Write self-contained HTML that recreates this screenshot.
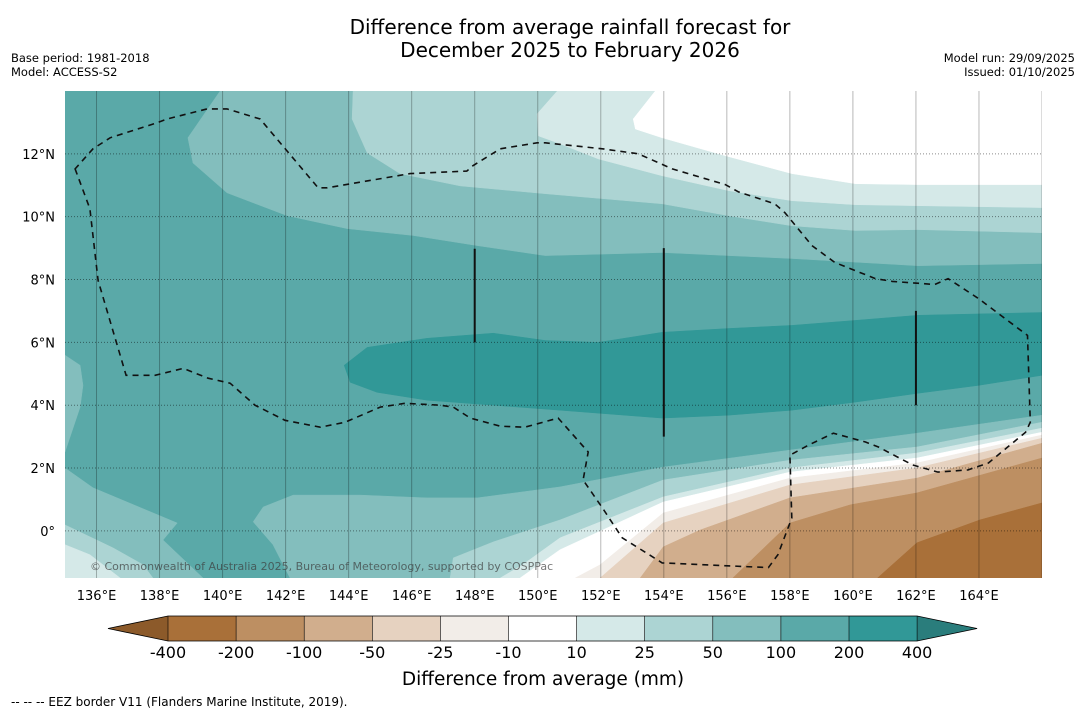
<!DOCTYPE html>
<html><head><meta charset="utf-8">
<style>
body{margin:0;background:#fff;font-family:"Liberation Sans","DejaVu Sans",sans-serif;}
#wrap{position:relative;width:1085px;height:713px;overflow:hidden;background:#fff;}
svg text{font-family:"DejaVu Sans","Liberation Sans",sans-serif;}
</style></head>
<body>
<div id="wrap">
<svg id="svg" width="1085" height="713" viewBox="0 0 1085 713">
<text x="570" y="34" font-size="20" text-anchor="middle" fill="#000">Difference from average rainfall forecast for</text>
<text x="570" y="57" font-size="20" text-anchor="middle" fill="#000">December 2025 to February 2026</text>
<text x="11" y="62" font-size="11.5">Base period: 1981-2018</text>
<text x="11" y="76" font-size="11.5">Model: ACCESS-S2</text>
<text x="1075" y="62" font-size="11.5" text-anchor="end">Model run: 29/09/2025</text>
<text x="1075" y="76" font-size="11.5" text-anchor="end">Issued: 01/10/2025</text>
<defs><clipPath id="mapclip"><rect x="65" y="91" width="977" height="487"/></clipPath></defs>
<g id="map" clip-path="url(#mapclip)"></g>
<g id="axes"></g>
<g id="cbar"></g>
<text x="543" y="685" font-size="18.5" text-anchor="middle">Difference from average (mm)</text>
<text x="11" y="706" font-size="12">--  --  -- EEZ border V11 (Flanders Marine Institute, 2019).</text>
</svg>
</div>
<script>
// ---- data (lon/lat) ----
const lonTicks=[136,138,140,142,144,146,148,150,152,154,156,158,160,162,164];
const latTicks=[0,2,4,6,8,10,12];
const cbLevels=[-400,-200,-100,-50,-25,-10,10,25,50,100,200,400];
const cbColors=["#a97039","#bd8f62","#d1ae8d","#e6d2c0","#f2ede8","#ffffff","#d5e9e8","#acd4d3","#83bebd","#5aa9a8","#319897"];
const baseColor="#5aa9a8";
const north100=[[139.92,14],[138.90,12.51],[139.06,11.71],[140.14,10.76],[142.05,10.03],[143.95,9.62],[146.05,9.40],[148.08,9.08],[150.24,8.76],[153.95,8.86],[158.06,8.67],[162.06,8.44],[166,8.51]];
const north50=[[144.14,14],[144.11,13.11],[144.59,12.03],[145.63,11.37],[147.54,10.98],[150.24,10.73],[153.95,10.41],[156.05,10.03],[158.06,9.71],[160.08,9.56],[162.06,9.59],[166,9.49]];
const north25=[[150.62,14],[149.98,13.27],[150.02,12.57],[150.71,12.32],[151.92,11.84],[153.95,11.30],[156.05,10.83],[158.06,10.51],[160.08,10.38],[162.06,10.35],[166,10.29]];
const north10=[[153.73,14],[153.03,13.11],[153.10,12.79],[153.95,12.51],[155.95,11.94],[158.06,11.37],[160.08,11.05],[162.06,11.02],[166,11.02]];
const band400=[[143.86,5.27],[144.59,5.84],[146.49,6.13],[148.59,6.29],[150.24,6.06],[151.92,6.00],[153.95,6.32],[156.05,6.44],[158.06,6.54],[160.08,6.70],[162.06,6.86],[166,6.95],[166,4.95],[163.98,4.63],[162.06,4.38],[160.08,4.10],[158.06,3.84],[156.05,3.68],[153.95,3.59],[150.71,3.84],[148.59,4.00],[146.49,4.16],[144.90,4.41],[144.05,4.73]];
const leftStrip=[[135,5.59],[135.48,5.27],[135.57,4.63],[135.48,3.94],[135,2.51]];
const sw100=[[135,2.0],[135.89,1.37],[138.56,0.25],[138.11,-0.29],[139.38,-1.5],[135,-1.5]];
const sw50=[[135,0.19],[136.52,-0.54],[137.48,-1.08],[137.79,-1.5],[135,-1.5]];
const sw25=[[135,-0.44],[135.79,-0.76],[136.75,-1.5],[135,-1.5]];
const south100=[[142.14,-1.5],[141.60,-0.44],[140.97,0.29],[141.29,0.76],[142.24,1.14],[144.37,1.14],[146.49,1.05],[148.08,1.05],[150.71,1.40],[153.98,2.03],[158.00,2.57],[162.03,3.11],[166,3.68]];
const south50=[[147.22,-1.5],[147.32,-0.86],[148.59,-0.35],[150.71,0.35],[153.98,1.62],[158.00,2.25],[162.03,2.67],[166,3.46]];
const south25=[[148.81,-1.5],[149.52,-1.08],[150.71,-0.22],[153.98,1.08],[158.00,2.00],[162.03,2.48],[166,3.27]];
const south10=[[149.44,-1.5],[150.71,-0.60],[153.98,0.92],[158.00,1.87],[162.03,2.32],[166,3.14]];
const southM10=[[151.19,-1.5],[151.98,-1.08],[153.98,0.57],[158.00,1.68],[162.03,2.16],[166,3.05]];
const southM25=[[151.98,-1.5],[153.98,0.25],[158.00,1.46],[162.03,2.00],[166,2.95]];
const southM50=[[153.25,-1.5],[153.98,-0.51],[155.16,0.03],[158.00,1.05],[162.03,1.68],[166,2.79]];
const southM100=[[156.19,-1.5],[158.00,0.25],[159.92,0.83],[162.03,1.21],[166,2.32]];
const southM200=[[160.78,-1.5],[162.03,-0.38],[164.03,0.35],[166,0.89]];
const eez=[[135.32,11.52],[135.79,10.25],[136.05,7.97],[136.94,4.95],[137.86,4.95],[138.75,5.17],[139.54,4.86],[140.24,4.70],[141.03,4.00],[141.98,3.52],[143.10,3.30],[143.89,3.46],[145.00,3.94],[145.79,4.06],[146.90,4.00],[147.32,3.94],[147.86,3.59],[148.81,3.33],[149.59,3.30],[150.65,3.59],[151.60,2.51],[151.44,1.62],[152.05,0.73],[152.68,-0.22],[153.95,-1.02],[157.32,-1.17],[157.62,-0.76],[158.06,0.41],[158.00,2.41],[158.59,2.73],[159.38,3.11],[160.40,2.83],[160.81,2.67],[161.89,2.10],[162.70,1.87],[163.65,1.94],[164.30,2.16],[165.48,3.14],[165.63,3.46],[165.54,6.22],[163.98,7.40],[163.02,8.03],[162.60,7.84],[161.25,7.94],[160.71,8.03],[159.43,8.54],[158.70,9.08],[157.84,10.13],[157.52,10.41],[156.37,10.79],[155.95,11.02],[154.27,11.52],[153.19,12.00],[152.05,12.16],[150.24,12.35],[149.98,12.35],[148.81,12.16],[147.94,11.62],[147.75,11.45],[145.95,11.37],[143.32,10.92],[143.03,10.92],[141.19,13.11],[140.14,13.43],[139.51,13.43],[138.24,13.11],[137.90,12.98],[136.43,12.51],[135.89,12.16]];
const bars=[[148,8.98,6.0],[154,9.0,3.0],[162,7.0,4.0]];

const X0=65,X1=1042,Y0=91,Y1=578,LON0=135,LON1=166,LAT0=-1.5,LAT1=14;
const px=lon=>X0+(lon-LON0)/(LON1-LON0)*(X1-X0);
const py=lat=>Y1-(lat-LAT0)/(LAT1-LAT0)*(Y1-Y0);
const NS="http://www.w3.org/2000/svg";
const map=document.getElementById('map'),axes=document.getElementById('axes'),cbar=document.getElementById('cbar');
function mk(tag,attrs,parent){const e=document.createElementNS(NS,tag);for(const k in attrs)e.setAttribute(k,attrs[k]);parent.appendChild(e);return e;}
function pts(arr){return arr.map(p=>px(p[0]).toFixed(1)+','+py(p[1]).toFixed(1)).join(' ');}

let bg=mk('rect',{x:X0,y:Y0,width:X1-X0,height:Y1-Y0,fill:baseColor},map);



function poly(arr,fill,name){const e=mk('polygon',{points:pts(arr),fill:fill,stroke:fill,'stroke-width':0.5},map);

}
function northBand(arr,fill,name){poly(arr.concat([[LON1,LAT1+1],[arr[0][0],LAT1+1]]),fill,name);}
function southBand(arr,fill,name){poly(arr.concat([[LON1,LAT0-1],[arr[0][0],LAT0-1]]),fill,name);}

northBand(north100,"#83bebd","band-north-50-100");
northBand(north50,"#acd4d3","band-north-25-50");
northBand(north25,"#d5e9e8","band-north-10-25");
northBand(north10,"#ffffff","band-north-neutral");
poly(band400,"#319897","band-200-400");
poly(leftStrip,"#83bebd","band-west-50-100");
poly(sw100,"#83bebd","band-southwest-50-100");
poly(sw50,"#acd4d3","band-southwest-25-50");
poly(sw25,"#d5e9e8","band-southwest-10-25");
southBand(south100,"#83bebd","band-south-50-100");
southBand(south50,"#acd4d3","band-south-25-50");
southBand(south25,"#d5e9e8","band-south-10-25");
southBand(south10,"#ffffff","band-south-neutral");
southBand(southM10,"#f2ede8","band-south-m10-m25");
southBand(southM25,"#e6d2c0","band-south-m25-m50");
southBand(southM50,"#d1ae8d","band-south-m50-m100");
southBand(southM100,"#bd8f62","band-south-m100-m200");
southBand(southM200,"#a97039","band-south-m200-m400");

lonTicks.concat([166]).forEach(l=>{const e=mk('line',{x1:px(l),x2:px(l),y1:Y0,y2:Y1,stroke:'rgba(0,0,0,0.28)','stroke-width':1},map);

});
latTicks.forEach(l=>{const e=mk('line',{x1:X0,x2:X1,y1:py(l),y2:py(l),stroke:'rgba(0,0,0,0.45)','stroke-width':1,'stroke-dasharray':'1,2'},map);

});

bars.forEach(b=>{const e=mk('line',{x1:px(b[0]),x2:px(b[0]),y1:py(b[1]),y2:py(b[2]),stroke:'#111','stroke-width':2},map);

});

let ez=mk('polygon',{points:pts(eez),fill:'none',stroke:'#111','stroke-width':1.6,'stroke-dasharray':'6,5'},map);



let cp=mk('text',{x:90,y:570,'font-size':11,fill:'rgba(60,60,60,0.7)'},map);
cp.textContent='© Commonwealth of Australia 2025, Bureau of Meteorology, supported by COSPPac';



lonTicks.forEach(l=>{const t=mk('text',{x:px(l),y:600,'font-size':13,'text-anchor':'middle'},axes);t.textContent=l+'°E';

});
latTicks.forEach(l=>{const t=mk('text',{x:55,y:py(l)+5,'font-size':13,'text-anchor':'end'},axes);t.textContent=l===0?'0°':l+'°N';

});

const CB0=168,CBW=68.1,CBY=616,CBH=25;
cbColors.forEach((c,i)=>{const r=mk('rect',{x:CB0+i*CBW,y:CBY,width:CBW+0.5,height:CBH,fill:c},cbar);

});
let tl=mk('polygon',{points:`${CB0},${CBY} ${CB0-60},${CBY+CBH/2} ${CB0},${CBY+CBH}`,fill:'#8c5a2a'},cbar);


const CBE=CB0+cbColors.length*CBW;
let tr=mk('polygon',{points:`${CBE},${CBY} ${CBE+60},${CBY+CBH/2} ${CBE},${CBY+CBH}`,fill:'#2a7d7c'},cbar);


let ol=mk('polygon',{points:`${CB0-60},${CBY+CBH/2} ${CB0},${CBY} ${CBE},${CBY} ${CBE+60},${CBY+CBH/2} ${CBE},${CBY+CBH} ${CB0},${CBY+CBH}`,fill:'none',stroke:'#000','stroke-width':0.8},cbar);


cbLevels.forEach((v,i)=>{const x=CB0+i*CBW;
const tk=mk('line',{x1:x,x2:x,y1:CBY,y2:CBY+CBH,stroke:'#000','stroke-width':0.6},cbar);


const t=mk('text',{x:x,y:658,'font-size':16,'text-anchor':'middle'},cbar);t.textContent=v;

});
</script>
</body></html>
